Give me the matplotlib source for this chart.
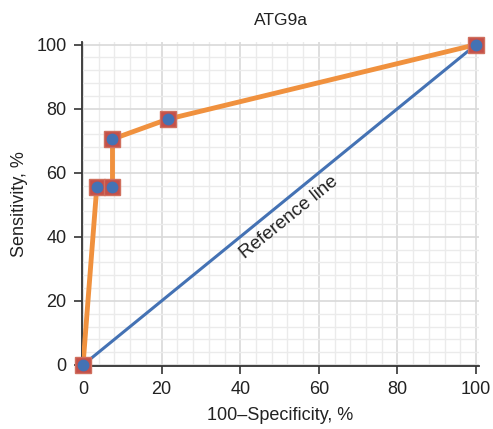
import matplotlib.pyplot as plt
from matplotlib.ticker import MultipleLocator

plt.rcParams['font.family'] = ['Liberation Sans', 'DejaVu Sans']

# ROC curve points (100-specificity, sensitivity)
fpr = [0, 3.5, 7.5, 7.5, 21.5, 100]
tpr = [0, 55.5, 55.5, 70.5, 76.7, 100]
ref_x = [0, 100]
ref_y = [0, 100]

fig = plt.figure(figsize=(4.93, 4.29), dpi=100)
ax = fig.add_axes([0.166, 0.147, 0.806, 0.755])

ax.plot(ref_x, ref_y, color='#4472B4', lw=2.2, zorder=3)
ax.plot(fpr, tpr, color='#F0913E', lw=3.5, zorder=4)
ax.plot(fpr, tpr, ls='none', marker='s', ms=11.5, mfc='#C4504A',
        mec='#D0705E', mew=1, zorder=5, clip_on=False)
ax.plot(fpr, tpr, ls='none', marker='o', ms=8.5, mfc='#4472B4',
        mec='none', zorder=6, clip_on=False)

ax.text(52.5, 46, 'Reference line', rotation=39, ha='center', va='center',
        fontsize=13.5, color='#222222', rotation_mode='anchor')

ax.set_xlim(-0.3, 100.8)
ax.set_ylim(-0.3, 100.8)
ax.xaxis.set_major_locator(MultipleLocator(20))
ax.yaxis.set_major_locator(MultipleLocator(20))
ax.xaxis.set_minor_locator(MultipleLocator(4))
ax.yaxis.set_minor_locator(MultipleLocator(4))
ax.grid(which='major', color='#D9D9D9', lw=1.2)
ax.grid(which='minor', color='#EBEBEB', lw=1.0)
ax.set_axisbelow(True)

for s in ['top', 'right']:
    ax.spines[s].set_visible(False)
for s in ['left', 'bottom']:
    ax.spines[s].set_color('#333333')
    ax.spines[s].set_linewidth(1.3)
ax.tick_params(which='major', length=6, width=1.2, color='#333333',
               labelsize=13, labelcolor='#222222', pad=5)
ax.tick_params(which='minor', length=0)

ax.set_xlabel('100\u2013Specificity, %', fontsize=13, color='#222222', labelpad=6)
ax.set_ylabel('Sensitivity, %', fontsize=13, color='#222222', labelpad=6)
ax.set_title('ATG9a', fontsize=12.5, color='#222222', pad=12)

fig.savefig('out.png', dpi=100)
